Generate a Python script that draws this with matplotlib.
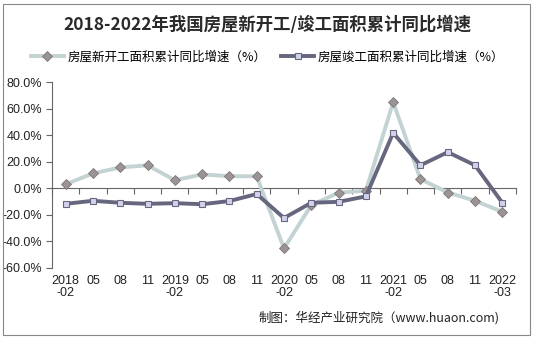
import matplotlib.pyplot as plt
import matplotlib.transforms as mtransforms
import numpy as np

plt.rcParams['font.family'] = ['Noto Sans CJK SC', 'DejaVu Sans']

# Datos (%)
periodos = ['2018\n-02', '05', '08', '11', '2019\n-02', '05', '08', '11',
            '2020\n-02', '05', '08', '11', '2021\n-02', '05', '08', '11', '2022\n-03']
xin_kaigong = [3.0, 11.2, 15.7, 17.3, 6.1, 10.4, 9.1, 9.0,
               -45.2, -12.7, -3.3, -1.8, 64.8, 6.9, -3.2, -9.4, -17.7]
jungong = [-11.7, -9.4, -10.9, -11.7, -11.2, -12.0, -9.6, -4.3,
           -22.4, -10.9, -10.2, -6.1, 41.7, 17.3, 27.2, 17.3, -10.9]
yticks = [80, 60, 40, 20, 0, -20, -40, -60]

fig = plt.figure(figsize=(5.35, 3.38), dpi=100)
W, H = 535, 338
ax = fig.add_axes([52 / W, 1 - 268 / H, (516 - 52) / W, (268 - 82) / H])

x = np.arange(len(periodos))
ax.plot(x, xin_kaigong, color='#c3d3d3', lw=2.8, marker='D', ms=5,
        mfc='#9c9494', mec='#7d7575', mew=0.6, label='房屋新开工面积累计同比增速（%）', zorder=3)
ax.plot(x, jungong, color='#66667e', lw=2.8, marker='s', ms=5,
        mfc='#d2d2ee', mec='#66667e', mew=0.8, label='房屋竣工面积累计同比增速（%）', zorder=4)

ax.set_xlim(-0.5, len(periodos) - 0.5)
ax.set_ylim(-60, 80)
ax.set_yticks(yticks)
ax.set_yticklabels([f'{v:.1f}%' for v in yticks], fontsize=9, color='#222222',
                   family=['Liberation Sans'])
ax.tick_params(axis='y', direction='out', length=4, width=0.8, color='#666666', pad=3)

# eje x en el cero, marcas entre categorías
ax.spines['bottom'].set_position(('data', 0))
ax.spines['bottom'].set_color('#666666')
ax.spines['left'].set_color('#666666')
ax.spines['top'].set_visible(False)
ax.spines['right'].set_visible(False)
ax.set_xticks(np.arange(len(periodos) + 1) - 0.5)
ax.set_xticklabels([])
ax.tick_params(axis='x', direction='out', length=4, width=0.8, color='#666666')

trans = mtransforms.blended_transform_factory(ax.transData, ax.transAxes)
for i, lab in enumerate(periodos):
    ax.text(i, -0.035, lab, transform=trans, ha='center', va='top', fontsize=9,
            color='#222222', family=['Liberation Sans'], linespacing=1.1)

fig.text(0.5, 1 - 25 / H, '2018-2022年我国房屋新开工/竣工面积累计同比增速', ha='center', va='center',
         fontsize=12.5, fontweight='bold', color='#2a2a2a')
fig.legend(loc='center', bbox_to_anchor=(0.5, 1 - 57 / H), ncol=2, frameon=False,
           fontsize=9, handlelength=2.6, columnspacing=1.2, handletextpad=0.3)

fig.text(500 / W, 1 - 318 / H, '制图：华经产业研究院（www.huaon.com)', ha='right', va='center',
         fontsize=9, color='#222222')

# marco exterior
fig.patches.append(plt.Rectangle((3 / W, 3 / H), 527 / W, 331 / H, transform=fig.transFigure,
                                 fill=False, ec='#888888', lw=0.8))

fig.savefig('out.png', dpi=100, facecolor='white')
